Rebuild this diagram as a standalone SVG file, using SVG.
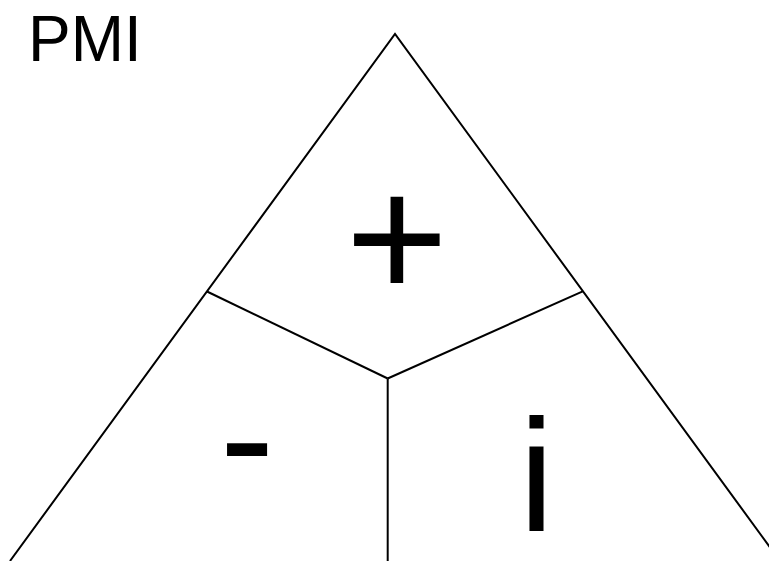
<svg xmlns="http://www.w3.org/2000/svg" width="769" height="561" viewBox="0 0 769 561">
<style>
.ln{stroke:#000;stroke-width:2;fill:none;stroke-linecap:butt}
.t{font-family:"Liberation Sans",Arial,sans-serif;fill:#000}
</style>
<rect width="769" height="561" fill="#fff"/>
<text id="title" class="t" x="28" y="61" font-size="64">PMI</text>
<g id="connectors">
<polyline class="ln" points="10,561 395,34 780,561" stroke-linejoin="miter"/>
<line class="ln" x1="207" y1="291.5" x2="387.7" y2="378.5"/>
<line class="ln" x1="582.7" y1="291.3" x2="387.7" y2="378.5"/>
<line class="ln" x1="387.7" y1="378.5" x2="387.7" y2="561"/>
</g>
<g id="plus"><text class="t" x="397" y="299" font-size="176" text-anchor="middle">+</text></g>
<g id="minus"><text class="t" x="247" y="493" font-size="164" text-anchor="middle">-</text></g>
<g id="interesting"><text class="t" x="536.5" y="531" font-size="160" text-anchor="middle">i</text></g>
</svg>
